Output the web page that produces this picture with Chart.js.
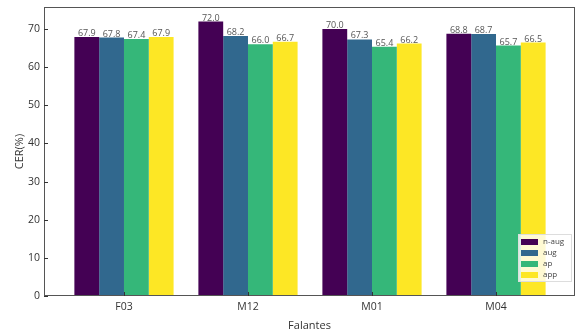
<!DOCTYPE html>
<html lang="en">
<head>
  <meta charset="UTF-8" />
  <title>CER por falante</title>
  <style>
    html, body { margin: 0; padding: 0; background: #fff; }
    #wrap { width: 576px; height: 332px; }
  </style>
</head>
<body>
  <div id="wrap"><canvas id="cerChart" width="576" height="332"></canvas></div>

  <script src="https://cdn.jsdelivr.net/npm/chart.js"></script>
  <script>
    // data
    const speakers = ['F03', 'M12', 'M01', 'M04'];
    const seriesNames = ['n-aug', 'aug', 'ap', 'app'];
    const nAug = [67.9, 72.0, 70.0, 68.8];
    const aug  = [67.8, 68.2, 67.3, 68.7];
    const ap   = [67.4, 66.0, 65.4, 65.7];
    const app  = [67.9, 66.7, 66.2, 66.5];
    const yTicks = [0, 10, 20, 30, 40, 50, 60, 70];
    const colors = ['#440154', '#31688e', '#35b779', '#fde725'];

    const FONT = "'Open Sans', sans-serif";
    const allSeries = [nAug, aug, ap, app];

    // value labels on top of each bar
    const barLabels = {
      id: 'barLabels',
      afterDatasetsDraw(chart) {
        const ctx = chart.ctx;
        ctx.save();
        ctx.font = '9px ' + FONT;
        ctx.fillStyle = '#555';
        ctx.textAlign = 'center';
        ctx.textBaseline = 'bottom';
        chart.data.datasets.forEach((ds, i) => {
          chart.getDatasetMeta(i).data.forEach((bar, j) => {
            ctx.fillText(ds.data[j].y.toFixed(1), bar.x, bar.y + 1);
          });
        });
        ctx.restore();
      }
    };

    // frame, inward ticks and the legend box
    const frame = {
      id: 'frame',
      afterDraw(chart) {
        const ctx = chart.ctx;
        const a = chart.chartArea;
        const xs = chart.scales.x, ys = chart.scales.y;
        ctx.save();
        ctx.strokeStyle = '#555';
        ctx.lineWidth = 1;
        ctx.strokeRect(a.left + 0.5, a.top + 0.5, a.right - a.left - 1, a.bottom - a.top - 1);
        ctx.strokeStyle = '#333';
        ctx.beginPath();
        yTicks.forEach(v => {
          const y = Math.round(ys.getPixelForValue(v)) + 0.5;
          ctx.moveTo(a.left, y); ctx.lineTo(a.left + 4, y);
        });
        speakers.forEach((s, i) => {
          const x = Math.round(xs.getPixelForValue(i)) + 0.5;
          ctx.moveTo(x, a.bottom); ctx.lineTo(x, a.bottom - 4);
        });
        ctx.stroke();

        // legend
        const bw = 54, bh = 48;
        const lx = a.right - bw - 3, ly = a.bottom - bh - 14;
        ctx.fillStyle = 'rgba(255,255,255,0.8)';
        ctx.strokeStyle = '#ddd';
        ctx.fillRect(lx, ly, bw, bh);
        ctx.strokeRect(lx + 0.5, ly + 0.5, bw - 1, bh - 1);
        ctx.font = '8px ' + FONT;
        ctx.textBaseline = 'middle';
        ctx.textAlign = 'left';
        chart.data.datasets.forEach((ds, i) => {
          const yy = ly + 8 + i * 11;
          ctx.fillStyle = ds.backgroundColor;
          ctx.fillRect(lx + 3, yy - 3, 17, 6);
          ctx.fillStyle = '#444';
          ctx.fillText(ds.label, lx + 25, yy);
        });
        ctx.restore();
      }
    };

    new Chart(document.getElementById('cerChart'), {
      type: 'bar',
      data: {
        datasets: allSeries.map((vals, i) => ({
          label: seriesNames[i],
          data: vals.map((v, j) => ({ x: j, y: v })),
          backgroundColor: colors[i],
          categoryPercentage: 0.8,
          barPercentage: 1.0
        }))
      },
      options: {
        responsive: false,
        animation: false,
        layout: { padding: { top: 7, right: 1, left: 0, bottom: 0 } },
        plugins: { legend: { display: false }, tooltip: { enabled: false } },
        scales: {
          x: {
            type: 'linear',
            offset: false,
            min: -0.645,
            max: 3.637,
            afterBuildTicks(scale) {
              scale.ticks = speakers.map((s, i) => ({ value: i }));
            },
            afterFit(scale) {
              scale.height = 36;
              scale.paddingLeft = 0;
              scale.paddingRight = 0;
            },
            grid: { display: false, drawTicks: false, offset: false },
            border: { display: false },
            ticks: {
              callback: (v) => speakers[v],
              color: '#333',
              font: { family: FONT, size: 10.5 },
              padding: 5,
              maxRotation: 0
            },
            title: {
              display: true,
              text: 'Falantes',
              color: '#333',
              font: { family: FONT, size: 11 },
              padding: { top: 3, bottom: 0 }
            }
          },
          y: {
            min: 0,
            max: 75.8,
            afterBuildTicks(scale) {
              scale.ticks = yTicks.map(v => ({ value: v }));
            },
            afterFit(scale) {
              scale.width = 44;
              scale.paddingTop = 0;
              scale.paddingBottom = 0;
            },
            grid: { display: false, drawTicks: false },
            border: { display: false },
            ticks: {
              color: '#333',
              font: { family: FONT, size: 10.5 },
              padding: 4
            },
            title: {
              display: true,
              text: 'CER(%)',
              color: '#333',
              font: { family: FONT, size: 11 },
              padding: { top: 13, bottom: 0 }
            }
          }
        }
      },
      plugins: [barLabels, frame]
    });
  </script>
</body>
</html>
